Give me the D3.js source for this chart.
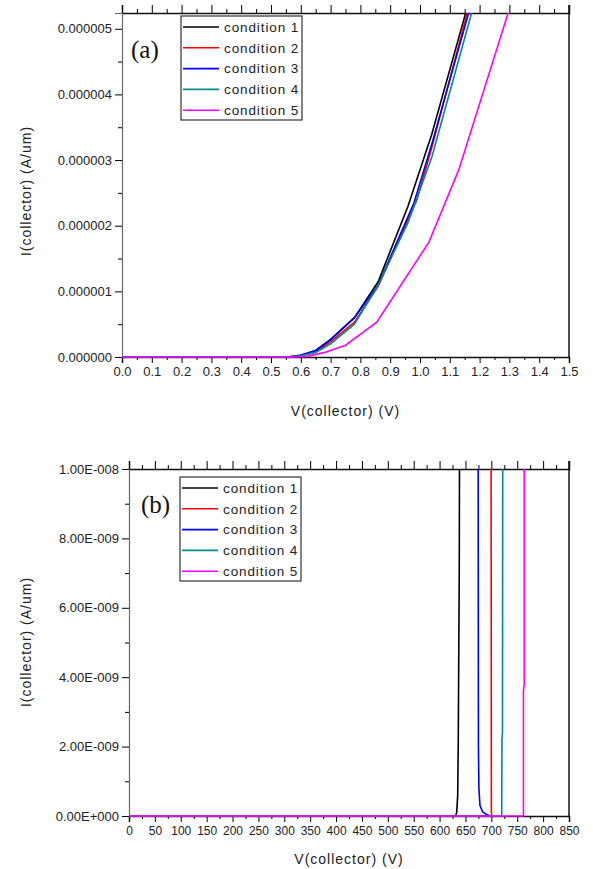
<!DOCTYPE html>
<html>
<head>
<meta charset="utf-8">
<script src="https://cdn.jsdelivr.net/npm/d3@7"></script>
<style>
  body { margin: 0; background: #fff; }
  text { font-family: "Liberation Sans", Arial, sans-serif; fill: #222; }
  text.panel-label { font-family: "Liberation Serif", "Times New Roman", serif; fill: #111; }
</style>
</head>
<body>
<svg id="chart" width="593" height="869"></svg>
<script>
const conditions = ["condition 1", "condition 2", "condition 3", "condition 4", "condition 5"];
const colors = ["#000000", "#ff0000", "#0000ff", "#008b8b", "#ff00ff"];

// panel (a): [V(collector) in V, I(collector) in A/um]
const aCond1 = [[0, 0], [0.55, 0], [0.6, 0.02e-6], [0.65, 0.1e-6], [0.7, 0.27e-6], [0.78, 0.6e-6], [0.86, 1.15e-6], [0.96, 2.3e-6], [1.04, 3.4e-6], [1.16, 5.35e-6]];
const aCond2 = [[0, 0], [0.55, 0], [0.6, 0.02e-6], [0.65, 0.08e-6], [0.7, 0.23e-6], [0.78, 0.53e-6], [0.86, 1.08e-6], [0.99, 2.4e-6], [1.04, 3.2e-6], [1.165, 5.35e-6]];
const aCond3 = [[0, 0], [0.56, 0], [0.6, 0.03e-6], [0.65, 0.1e-6], [0.7, 0.26e-6], [0.78, 0.6e-6], [0.86, 1.1e-6], [0.98, 2.35e-6], [1.04, 3.25e-6], [1.17, 5.35e-6]];
const aCond4 = [[0, 0], [0.56, 0], [0.6, 0.02e-6], [0.65, 0.07e-6], [0.7, 0.2e-6], [0.78, 0.5e-6], [0.86, 1.1e-6], [0.96, 2.05e-6], [1.04, 3.05e-6], [1.18, 5.35e-6]];
const aCond5 = [[0, 0], [0.57, 0], [0.62, 0.01e-6], [0.68, 0.07e-6], [0.75, 0.18e-6], [0.855, 0.53e-6], [1.03, 1.75e-6], [1.13, 2.85e-6], [1.3, 5.3e-6]];

// panel (b): [V(collector) in V, I(collector) in A/um]
const bCond1 = [[0, 0], [631, 0], [633, 0.1e-9], [635, 0.6e-9], [636, 2e-9], [637, 4.5e-9], [638, 7e-9], [638.5, 1.05e-8]];
const bCond2 = [[0, 0], [701, 0], [700, 0.1e-9], [699.5, 1.05e-8]];
const bCond3 = [[0, 0], [698, 0], [690, 0.05e-9], [683, 0.12e-9], [678, 0.3e-9], [676, 0.8e-9], [675, 2e-9], [674.5, 1.05e-8]];
const bCond4 = [[0, 0], [720, 0], [720.5, 2.2e-9], [721.5, 2.4e-9], [722, 1.05e-8]];
const bCond5 = [[0, 0], [762, 0], [762, 3.6e-9], [763.5, 3.8e-9], [763.5, 1.05e-8]];

const aXTicks = d3.range(0, 16).map(i => i / 10);
const aYTicks = d3.range(0, 6).map(i => i * 1e-6);
const bXTicks = d3.range(0, 18).map(i => i * 50);
const bYTicks = d3.range(0, 6).map(i => i * 2e-9);

function fmtE(v) {
    if (v === 0) return "0.00E+000";
    const [m, e] = v.toExponential(2).split("e");
    const n = +e;
    return m + "E" + (n < 0 ? "-" : "+") + String(Math.abs(n)).padStart(3, "0");
}

const svg = d3.select("#chart");

function drawPanel(p) {
    const g = svg.append("g");
    const x = d3.scaleLinear().domain(p.xDomain).range([p.left, p.right]);
    const y = d3.scaleLinear().domain(p.yDomain).range([p.bottom, p.top]);

    const clipId = "clip-" + p.name;
    svg.append("clipPath").attr("id", clipId)
        .append("rect")
        .attr("x", p.left).attr("y", p.top)
        .attr("width", p.right - p.left).attr("height", p.bottom - p.top + 1);

    // bottom axis, major and minor ticks
    g.append("g")
        .attr("transform", `translate(0,${p.bottom})`)
        .call(d3.axisBottom(x).tickValues(p.xTicks).tickSize(6).tickPadding(4).tickFormat(p.xFormat))
        .call(a => a.select(".domain").attr("stroke", "#111").attr("stroke-width", 1.5))
        .call(a => a.selectAll("text").attr("font-size", p.xFontSize).attr("font-family", null));
    g.append("g")
        .attr("transform", `translate(0,${p.bottom})`)
        .call(d3.axisBottom(x).tickValues(p.xMinor).tickSize(3).tickFormat(""))
        .call(a => a.select(".domain").remove());

    // top axis, ticks only
    g.append("g")
        .attr("transform", `translate(0,${p.top})`)
        .call(d3.axisTop(x).tickValues(p.xTicks).tickSize(8).tickFormat(""))
        .call(a => a.select(".domain").attr("stroke", "#111").attr("stroke-width", 1.5));
    g.append("g")
        .attr("transform", `translate(0,${p.top})`)
        .call(d3.axisTop(x).tickValues(p.xMinor).tickSize(4).tickFormat(""))
        .call(a => a.select(".domain").remove());

    // left axis
    g.append("g")
        .attr("transform", `translate(${p.left},0)`)
        .call(d3.axisLeft(y).tickValues(p.yTicks).tickSize(7).tickPadding(3).tickFormat(p.yFormat))
        .call(a => a.select(".domain").attr("stroke", "#666").attr("stroke-width", 1.2))
        .call(a => a.selectAll("text").attr("font-size", 13).attr("font-family", null));
    g.append("g")
        .attr("transform", `translate(${p.left},0)`)
        .call(d3.axisLeft(y).tickValues(p.yMinor).tickSize(4).tickFormat(""))
        .call(a => a.select(".domain").remove());

    // right frame line
    g.append("line")
        .attr("x1", p.right).attr("x2", p.right)
        .attr("y1", p.top - 8).attr("y2", p.bottom)
        .attr("stroke", "#111").attr("stroke-width", 1.5);

    // curves
    const line = d3.line().x(d => x(d[0])).y(d => y(d[1]));
    g.append("g")
        .attr("clip-path", `url(#${clipId})`)
        .selectAll("path")
        .data(p.series)
        .join("path")
        .attr("fill", "none")
        .attr("stroke", (d, i) => colors[i])
        .attr("stroke-width", 1.6)
        .attr("d", line);

    // panel label
    g.append("text")
        .attr("class", "panel-label")
        .attr("x", p.labelX).attr("y", p.labelY)
        .attr("font-size", 25)
        .text(p.label);

    // legend
    const lg = g.append("g").attr("transform", `translate(${p.legendX},${p.legendY})`);
    lg.append("rect")
        .attr("width", 121).attr("height", 104)
        .attr("fill", "#fff").attr("stroke", "#333").attr("stroke-width", 1.2);
    const rows = lg.selectAll("g.row")
        .data(conditions)
        .join("g")
        .attr("class", "row")
        .attr("transform", (d, i) => `translate(0,${11 + i * 20.8})`);
    rows.append("line")
        .attr("x1", 2).attr("x2", 38)
        .attr("stroke", (d, i) => colors[i]).attr("stroke-width", 1.6);
    rows.append("text")
        .attr("x", 43).attr("dy", "0.36em")
        .attr("font-size", 13.5)
        .attr("letter-spacing", 0.9)
        .text(d => d);

    // axis titles
    g.append("text")
        .attr("x", (p.left + p.right) / 2).attr("y", p.xTitleY)
        .attr("text-anchor", "middle")
        .attr("font-size", 14).attr("letter-spacing", 1)
        .text("V(collector) (V)");
    g.append("text")
        .attr("transform", `translate(${p.yTitleX},${p.yTitleY}) rotate(-90)`)
        .attr("text-anchor", "middle")
        .attr("font-size", 14).attr("letter-spacing", 1)
        .text("I(collector) (A/um)");
}

drawPanel({
    name: "a",
    left: 122, right: 569, top: 13, bottom: 357,
    xDomain: [0, 1.5], yDomain: [0, 5.24e-6],
    xTicks: aXTicks, xMinor: aXTicks.slice(0, -1).map(v => v + 0.05),
    yTicks: aYTicks, yMinor: aYTicks.map(v => v + 0.5e-6),
    xFormat: d3.format(".1f"), yFormat: d3.format(".6f"),
    xFontSize: 13,
    series: [aCond1, aCond2, aCond3, aCond4, aCond5],
    label: "(a)", labelX: 131, labelY: 58,
    legendX: 181, legendY: 16,
    xTitleY: 416, yTitleX: 31, yTitleY: 191
});

drawPanel({
    name: "b",
    left: 129, right: 569, top: 469, bottom: 816,
    xDomain: [0, 850], yDomain: [0, 1e-8],
    xTicks: bXTicks, xMinor: bXTicks.slice(0, -1).map(v => v + 25),
    yTicks: bYTicks, yMinor: bYTicks.slice(0, -1).map(v => v + 1e-9),
    xFormat: d3.format("d"), yFormat: fmtE,
    xFontSize: 12,
    series: [bCond1, bCond2, bCond3, bCond4, bCond5],
    label: "(b)", labelX: 141, labelY: 513,
    legendX: 180, legendY: 477,
    xTitleY: 864, yTitleX: 31, yTitleY: 642
});
</script>
</body>
</html>
